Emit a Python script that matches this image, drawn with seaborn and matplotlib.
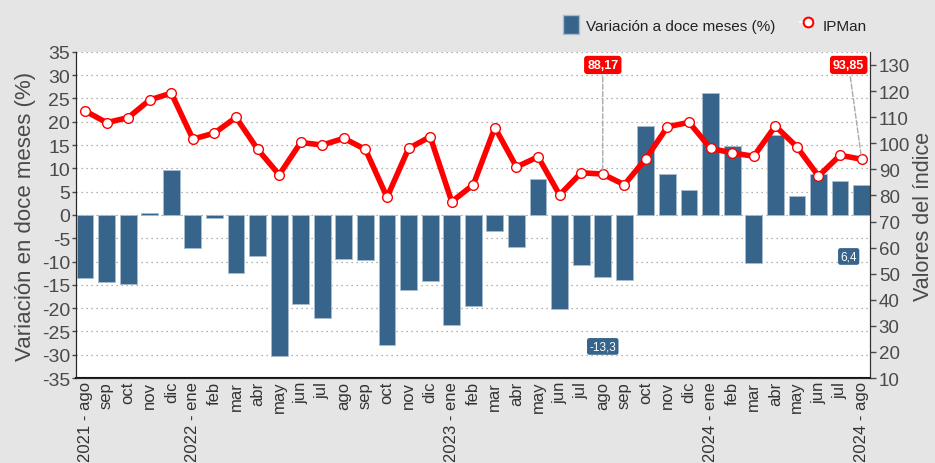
import matplotlib
matplotlib.use("Agg")
import matplotlib.pyplot as plt
import seaborn as sns
import pandas as pd
from matplotlib.patches import Patch
from matplotlib.lines import Line2D

meses = ['2021 - ago', 'sep', 'oct', 'nov', 'dic',
         '2022 - ene', 'feb', 'mar', 'abr', 'may', 'jun', 'jul', 'ago', 'sep', 'oct', 'nov', 'dic',
         '2023 - ene', 'feb', 'mar', 'abr', 'may', 'jun', 'jul', 'ago', 'sep', 'oct', 'nov', 'dic',
         '2024 - ene', 'feb', 'mar', 'abr', 'may', 'jun', 'jul', '2024 - ago']

variacion = [-13.6, -14.4, -14.9, 0.4, 9.6,
             -7.1, -0.6, -12.5, -8.9, -30.3, -19.0, -22.1, -9.4, -9.7, -28.0, -16.1, -14.2,
             -23.7, -19.5, -3.5, -6.9, 7.7, -20.1, -10.7, -13.3, -14.0, 19.0, 8.7, 5.3,
             26.2, 14.8, -10.4, 17.2, 4.1, 8.9, 7.3, 6.4]

ipman = [112.4, 107.9, 109.8, 116.6, 119.2,
         101.6, 103.9, 109.9, 97.7, 87.9, 100.3, 99.3, 101.9, 97.6, 79.3, 98.0, 102.5,
         77.6, 84.1, 106.0, 90.9, 94.8, 80.2, 88.7, 88.17, 84.1, 94.1, 106.3, 108.0,
         98.0, 96.3, 95.0, 106.6, 98.6, 87.4, 95.4, 93.85]

df = pd.DataFrame({'pos': range(len(meses)), 'variacion': variacion, 'ipman': ipman})

azul = '#36648b'
rojo = '#ff0000'
gris = '#4a4a4a'

sns.set_style("white")
plt.rcParams['font.family'] = ['Liberation Sans', 'DejaVu Sans']
plt.rcParams['axes.unicode_minus'] = False

fig = plt.figure(figsize=(9.35, 4.64), dpi=100)
fig.patch.set_facecolor('#e5e5e5')
ax = fig.add_axes([0.081, 0.183, 0.85, 0.703])
ax.set_facecolor('white')

sns.barplot(data=df, x='pos', y='variacion', color=azul, width=0.78, saturation=1,
            edgecolor='#a9bccf', linewidth=0.6, ax=ax, zorder=2)
ax.set_ylim(-35, 35)
ax.set_yticks(range(-35, 36, 5))
ax.set_xlim(-0.43, 36.41)
ax.set_xticks(range(len(meses)))
ax.set_xticklabels(meses, rotation=90, fontsize=12, color='#333333')
ax.tick_params(axis='x', length=0, pad=2)
ax.tick_params(axis='y', labelsize=14, colors=gris, length=3, width=1, direction='out', pad=1)
ax.grid(axis='y', linestyle=(0, (1, 3)), color='#999999', linewidth=0.9, zorder=0)
ax.set_axisbelow(True)
ax.set_xlabel('')
ax.set_ylabel('Variación en doce meses (%)', fontsize=16, color=gris)
ax.yaxis.set_label_coords(-0.05, 0.5)
ax.spines['top'].set_visible(False)
ax.spines['left'].set_color('#333333')
ax.spines['bottom'].set_color('#111111')
ax.spines['bottom'].set_linewidth(1.5)

ax2 = ax.twinx()
sns.lineplot(data=df, x='pos', y='ipman', color=rojo, linewidth=4, marker='o',
             markersize=7, markerfacecolor='white', markeredgecolor=rojo,
             markeredgewidth=1, ax=ax2, zorder=3)
ax2.set_ylim(10, 135)
ax2.set_yticks(range(10, 131, 10))
ax2.set_xlim(-0.43, 36.41)
ax2.tick_params(axis='y', labelsize=13.5, colors=gris, length=4, width=1, direction='out', pad=2)
ax2.set_ylabel('Valores del índice', fontsize=15.5, color=gris)
ax2.yaxis.set_label_coords(1.053, 0.5)
ax2.set_xlabel('')
ax2.spines['top'].set_visible(False)
ax2.spines['right'].set_color('#333333')

# etiquetas
i_a, i_b = 24, 36
ax2.annotate('88,17', xy=(i_a, ipman[i_a]), xytext=(i_a, 130), ha='center', va='center',
             fontsize=9, color='white', fontweight='bold',
             bbox=dict(boxstyle='round,pad=0.25', fc=rojo, ec='none'),
             arrowprops=dict(arrowstyle='-', color='#aaaaaa', linestyle='--', lw=1))
ax2.annotate('93,85', xy=(i_b, ipman[i_b]), xytext=(i_b - 0.6, 130), ha='center', va='center',
             fontsize=9, color='white', fontweight='bold',
             bbox=dict(boxstyle='round,pad=0.25', fc=rojo, ec='none'),
             arrowprops=dict(arrowstyle='-', color='#aaaaaa', linestyle='--', lw=1))
ax.text(i_a, -28.2, '-13,3', ha='center', va='center', fontsize=8.5, color='white',
        bbox=dict(boxstyle='round,pad=0.2', fc=azul, ec='none'), zorder=5)
ax.text(i_b - 0.6, -8.9, '6,4', ha='center', va='center', fontsize=8.5, color='white',
        bbox=dict(boxstyle='round,pad=0.2', fc=azul, ec='none'), zorder=5)

# leyenda
handles = [Patch(facecolor=azul, edgecolor='#a9bccf', label='Variación a doce meses (%)'),
           Line2D([], [], color='white', marker='o', markerfacecolor='white',
                  markeredgecolor=rojo, markeredgewidth=1.5, markersize=7, label='IPMan')]
fig.legend(handles=handles, loc='center', bbox_to_anchor=(0.765, 0.945), ncol=2, frameon=False,
           fontsize=11, labelcolor='#222222', handlelength=1.0, handleheight=1.6,
           columnspacing=1.6, handletextpad=0.5)

fig.savefig('out.png', dpi=100, facecolor=fig.get_facecolor())
